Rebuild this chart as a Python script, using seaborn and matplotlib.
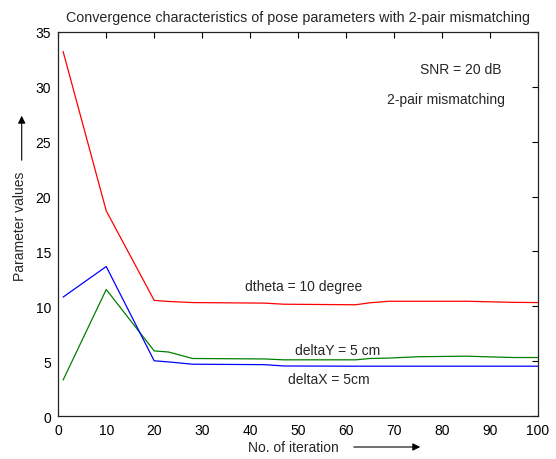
import matplotlib
matplotlib.use("Agg")
import matplotlib.pyplot as plt
import seaborn as sns
import pandas as pd

# ---- data ----
iterations = [1, 10, 20, 23, 28, 43, 47, 62, 65, 69, 75, 85, 95, 100]
dtheta_vals = [33.2, 18.7, 10.55, 10.45, 10.35, 10.3, 10.2, 10.15, 10.33, 10.47, 10.47, 10.47, 10.37, 10.35]
deltaY_vals = [3.3, 11.54, 5.95, 5.85, 5.26, 5.22, 5.14, 5.14, 5.26, 5.3, 5.42, 5.47, 5.35, 5.35]
deltaX_vals = [10.85, 13.63, 5.05, 4.95, 4.74, 4.7, 4.58, 4.56, 4.56, 4.56, 4.56, 4.56, 4.56, 4.56]
series_names = ["dtheta", "deltaY", "deltaX"]
series_colors = ["#ff0000", "#008000", "#0000ff"]

title_text = "Convergence characteristics of pose parameters with 2-pair mismatching"
xlabel_text = "No. of iteration"
ylabel_text = "Parameter values"
x_ticks = [0, 10, 20, 30, 40, 50, 60, 70, 80, 90, 100]
y_ticks = [0, 5, 10, 15, 20, 25, 30, 35]

df = pd.DataFrame({
    "iteration": iterations * 3,
    "value": dtheta_vals + deltaY_vals + deltaX_vals,
    "series": [series_names[0]] * len(iterations)
              + [series_names[1]] * len(iterations)
              + [series_names[2]] * len(iterations),
})

sns.set_style("white")
plt.rcParams["font.family"] = ["Liberation Sans", "DejaVu Sans"]
plt.rcParams["font.size"] = 10

fig = plt.figure(figsize=(5.56, 4.6), dpi=100)
W, H = 556, 460
left, right, top, bottom = 58.3, 537.7, 32.7, 417.3
ax = fig.add_axes([left / W, 1 - bottom / H, (right - left) / W, (bottom - top) / H])

sns.lineplot(data=df, x="iteration", y="value", hue="series",
             palette=dict(zip(series_names, series_colors)),
             linewidth=0.9, legend=False, ax=ax, sort=False)

ax.set_xlim(0, 100)
ax.set_ylim(0, 35)
ax.set_xticks(x_ticks)
ax.set_yticks(y_ticks)
ax.set_xlabel("")
ax.set_ylabel("")
ax.tick_params(direction="in", length=4, width=0.8, colors="black",
               labelsize=10, top=True, right=True, pad=5)
for s in ax.spines.values():
    s.set_color("#222222")
    s.set_linewidth(0.9)
    s.set_visible(True)

ax.set_title(title_text, fontsize=10.3, pad=8)

# annotations inside axes
ax.text(84, 31.6, "SNR = 20 dB", ha="center", va="center", fontsize=10)
ax.text(80.9, 28.9, "2-pair mismatching", ha="center", va="center", fontsize=10)
ax.text(51.1, 11.9, "dtheta = 10 degree", ha="center", va="center", fontsize=10)
ax.text(58.2, 6.07, "deltaY = 5 cm", ha="center", va="center", fontsize=10)
ax.text(56.4, 3.35, "deltaX = 5cm", ha="center", va="center", fontsize=10)

# x label with arrow
fig.text(293.7 / W, 1 - 448 / H, xlabel_text, ha="center", va="center", fontsize=10)
fig.add_artist(matplotlib.patches.FancyArrowPatch(
    (351 / W, 1 - 448 / H), (423 / W, 1 - 448 / H), transform=fig.transFigure,
    arrowstyle="-|>", mutation_scale=11, color="black", lw=0.8))

# y label with arrow
fig.text(20.5 / W, 1 - 226.5 / H, ylabel_text, ha="center", va="center",
         rotation=90, fontsize=10)
fig.add_artist(matplotlib.patches.FancyArrowPatch(
    (21.7 / W, 1 - 164 / H), (21.7 / W, 1 - 114 / H), transform=fig.transFigure,
    arrowstyle="-|>", mutation_scale=11, color="black", lw=0.8))

fig.savefig("out.png", dpi=100)
